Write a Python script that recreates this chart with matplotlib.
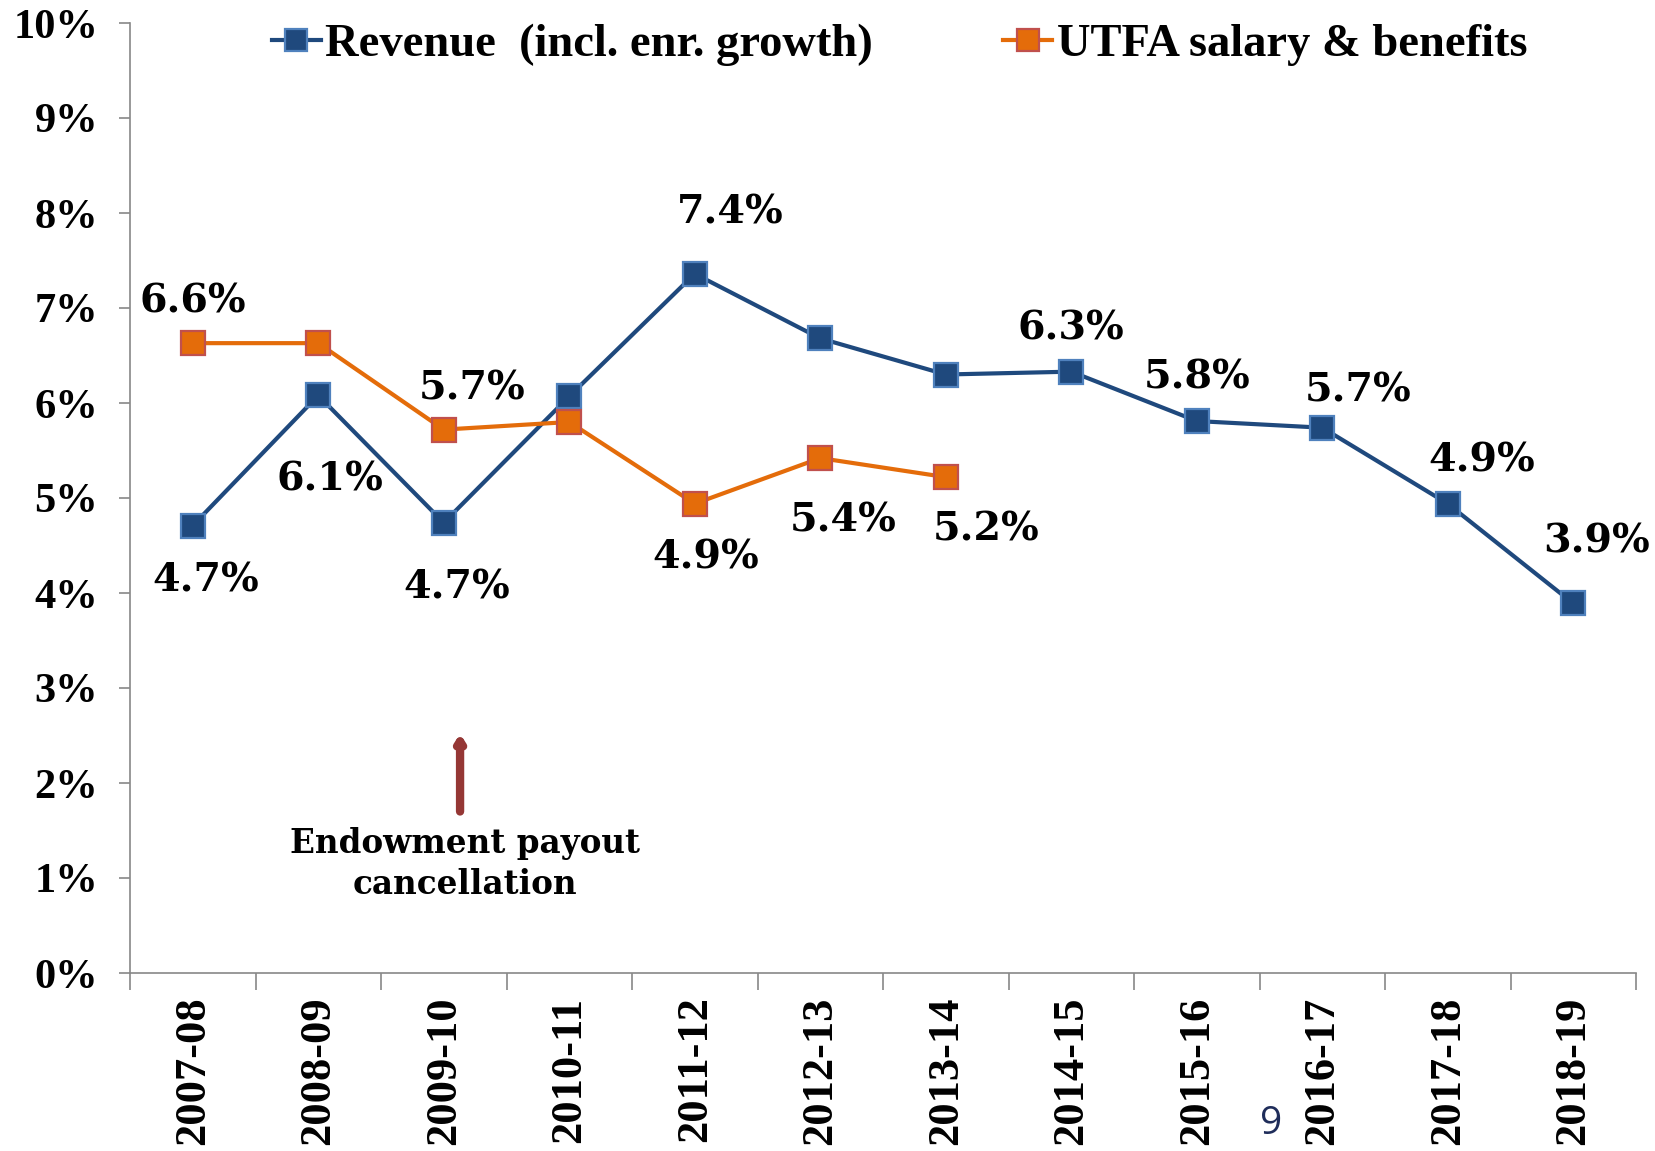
import matplotlib.pyplot as plt
from matplotlib.ticker import FixedLocator, FuncFormatter

years = ["2007-08", "2008-09", "2009-10", "2010-11", "2011-12", "2012-13",
         "2013-14", "2014-15", "2015-16", "2016-17", "2017-18", "2018-19"]
revenue = [4.71, 6.08, 4.74, 6.07, 7.36, 6.68, 6.30, 6.33, 5.81, 5.74, 4.94, 3.89]
utfa = [6.63, 6.63, 5.72, 5.80, 4.94, 5.42, 5.22]

revenue_labels = ["4.7%", "6.1%", "4.7%", None, "7.4%", None, None,
                  "6.3%", "5.8%", "5.7%", "4.9%", "3.9%"]
utfa_labels = ["6.6%", None, "5.7%", None, "4.9%", "5.4%", "5.2%"]

# label offsets from the point, in pixels (x right, y up)
revenue_offsets = [(13, -55), (12, -84), (13, -65), None, (35, 61), None, None,
                   (0, 43), (0, 44), (36, 37), (34, 43), (23, 62)]
utfa_offsets = [(0, 42), None, (28, 41), None, (11, -54), (23, -62), (40, -52)]

BLUE = "#1F497D"
BLUE_EDGE = "#4F81BD"
ORANGE = "#E46C0A"
ORANGE_EDGE = "#C0504D"
SERIF = ["Liberation Serif", "DejaVu Serif"]
LABEL_FONT = ["DejaVu Serif"]

fig = plt.figure(figsize=(16.55, 11.51), dpi=100)
ax = fig.add_axes([130 / 1655, 178 / 1151, 1506 / 1655, 950 / 1151])

x = list(range(len(years)))
ax.plot(x, revenue, color=BLUE, lw=3, marker="s", ms=17,
        mfc=BLUE, mec=BLUE_EDGE, mew=1.6, label="Revenue  (incl. enr. growth)", zorder=3)
ax.plot(x[:len(utfa)], utfa, color=ORANGE, lw=3, marker="s", ms=17,
        mfc=ORANGE, mec=ORANGE_EDGE, mew=1.6, label="UTFA salary & benefits", zorder=3)


def put_labels(vals, labels, offsets):
    for i, (v, lab, off) in enumerate(zip(vals, labels, offsets)):
        if lab is None:
            continue
        ax.annotate(lab, (i, v), xytext=(off[0] * 0.72, off[1] * 0.72),
                    textcoords="offset points", ha="center", va="center",
                    fontsize=28.5, fontweight="bold", family=LABEL_FONT)


put_labels(revenue, revenue_labels, revenue_offsets)
put_labels(utfa, utfa_labels, utfa_offsets)

# endowment payout arrow
ax.annotate("", xy=(2.13, 2.52), xytext=(2.13, 1.7),
            arrowprops=dict(arrowstyle="-|>,head_width=0.22,head_length=0.35",
                            color="#953735", lw=6, shrinkA=0, shrinkB=0))
ax.text(2.17, 1.15, "Endowment payout\ncancellation", ha="center", va="center",
        fontsize=23.5, fontweight="bold", family=LABEL_FONT, linespacing=1.3)

ax.set_xlim(-0.5, len(years) - 0.5)
ax.set_ylim(0, 10)

ax.xaxis.set_major_locator(FixedLocator([i - 0.5 for i in range(len(years) + 1)]))
ax.xaxis.set_minor_locator(FixedLocator(x))
ax.set_xticklabels([], minor=False)
ax.set_xticks(x, years, minor=True)
ax.tick_params(axis="x", which="major", length=12, color="#888888", width=1.2)
ax.tick_params(axis="x", which="minor", length=0, pad=17)
for t in ax.get_xticklabels(minor=True):
    t.set_rotation(90)
    t.set_fontsize(32)
    t.set_fontweight("bold")
    t.set_family(SERIF)

ax.set_yticks(range(0, 11))
ax.yaxis.set_major_formatter(FuncFormatter(lambda v, p: f"{int(v)}%"))
ax.tick_params(axis="y", length=8, color="#888888", width=1.2, pad=15)
for t in ax.get_yticklabels():
    t.set_fontsize(30.5)
    t.set_fontweight("bold")
    t.set_family(SERIF)

for s in ["top", "right"]:
    ax.spines[s].set_visible(False)
for s in ["left", "bottom"]:
    ax.spines[s].set_color("#888888")
    ax.spines[s].set_linewidth(1.2)

leg = ax.legend(loc="center", bbox_to_anchor=(0.511, 0.977), ncol=2, frameon=False,
                prop={"family": SERIF, "weight": "bold", "size": 33.5},
                handlelength=1.05, handletextpad=0.1, columnspacing=2.8, markerscale=0.9)

fig.text(1271 / 1655, 1 - 1124 / 1151, "9", color="#1F2D5A", fontsize=28,
         family=["Open Sans", "DejaVu Sans"], ha="center", va="center")

fig.savefig("out.png", dpi=100)
